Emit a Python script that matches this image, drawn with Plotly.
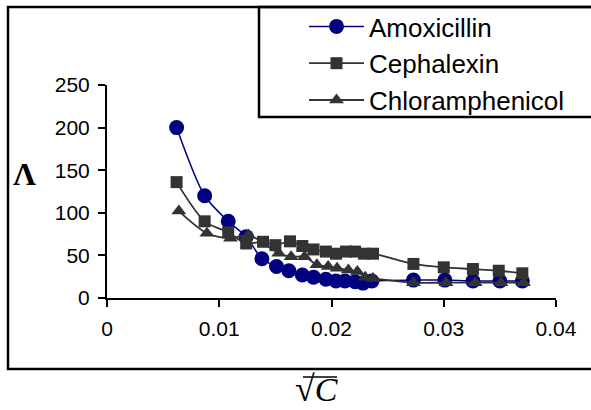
import plotly.graph_objects as go

# Molar conductivity (Λ) against square root of concentration
amox_x = [0.0062, 0.0087, 0.0108, 0.0124, 0.0138, 0.0151, 0.0162, 0.0174, 0.0184, 0.0195,
          0.0204, 0.0212, 0.0221, 0.0228, 0.0236, 0.0273, 0.0301, 0.0326, 0.0350, 0.0370]
amox_y = [200, 120, 90, 72, 46, 37, 32, 27, 24.5, 22,
          20, 20, 19, 17.5, 20, 21, 21, 20, 20, 20]

ceph_x = [0.0062, 0.0087, 0.0108, 0.0124, 0.0139, 0.0150, 0.0163, 0.0174, 0.0184, 0.0195,
          0.0204, 0.0213, 0.0221, 0.0229, 0.0237, 0.0273, 0.0300, 0.0326, 0.0349, 0.0370]
ceph_y = [136, 90, 77, 64, 66, 62, 66.5, 61, 57, 54.5,
          52, 54.5, 54.5, 52, 52, 40, 36, 34, 32, 29]

chlor_x = [0.0064, 0.0089, 0.0110, 0.0126, 0.0153, 0.0164, 0.0176, 0.0187, 0.0197,
           0.0205, 0.0215, 0.0223, 0.0230, 0.0237, 0.0273, 0.0302, 0.0328, 0.0351, 0.0371]
chlor_y = [102, 76, 70, 74, 52.5, 48.5, 48.5, 39, 37,
           35, 33, 31, 24.5, 23, 18, 18, 18, 18, 18]

x_ticks = [0, 0.01, 0.02, 0.03, 0.04]
x_tick_text = ["0", "0.01", "0.02", "0.03", "0.04"]
y_ticks = [0, 50, 100, 150, 200, 250]

NAVY = "#000080"
GREY = "#333333"
SANS = "Liberation Sans, Arial, sans-serif"
SERIF = "Liberation Serif, Times New Roman, serif"

fig = go.Figure()
fig.add_trace(go.Scatter(
    x=amox_x, y=amox_y, name="Amoxicillin", mode="lines+markers",
    line=dict(color=NAVY, width=1.5, shape="spline", smoothing=0.8),
    marker=dict(symbol="circle", size=15, color=NAVY),
))
fig.add_trace(go.Scatter(
    x=ceph_x, y=ceph_y, name="Cephalexin", mode="lines+markers",
    line=dict(color=GREY, width=1.8, shape="spline", smoothing=0.8),
    marker=dict(symbol="square", size=12, color=GREY),
))
fig.add_trace(go.Scatter(
    x=chlor_x, y=chlor_y, name="Chloramphenicol", mode="lines+markers",
    line=dict(color=GREY, width=1.8, shape="spline", smoothing=0.8),
    marker=dict(symbol="triangle-up", size=13, color=GREY),
))

W, H = 591, 410
x0, x1 = 107 / W, 556 / W
y0, y1 = 1 - 298 / H, 1 - 85 / H

axis_style = dict(
    showgrid=False, zeroline=False, automargin=False,
    showline=True, linecolor="black", linewidth=2,
    ticks="outside", ticklen=7, tickwidth=2, tickcolor="black",
    tickfont=dict(size=21),
)

fig.update_layout(
    width=W, height=H,
    margin=dict(l=0, r=0, t=0, b=0, autoexpand=False),
    paper_bgcolor="white", plot_bgcolor="white",
    font=dict(family=SANS, size=21, color="black"),
    showlegend=True,
    legend=dict(
        x=304 / W, y=1 - 3 / H, xanchor="left", yanchor="top",
        bgcolor="rgba(0,0,0,0)", borderwidth=0,
        font=dict(size=26, family=SANS),
        tracegroupgap=0, itemwidth=55,
    ),
    xaxis=dict(domain=[x0, x1], range=[0, 0.04],
               tickvals=x_ticks, ticktext=x_tick_text,
               ticklabelstandoff=4, **axis_style),
    yaxis=dict(domain=[y0, y1], range=[0, 250],
               tickvals=y_ticks, ticklabelstandoff=4, **axis_style),
)

# Outer frame of the chart and the legend frame
fig.add_shape(type="rect", xref="paper", yref="paper",
              x0=8 / W, x1=1.02, y0=1 - 369 / H, y1=1 - 7 / H,
              line=dict(color="black", width=2.5), layer="below")
fig.add_shape(type="rect", xref="paper", yref="paper",
              x0=259 / W, x1=1.02, y0=1 - 117 / H, y1=1 - 7 / H,
              line=dict(color="black", width=2.5), layer="below")

# Axis titles: Λ and √C
fig.add_annotation(text="<b>Λ</b>", xref="paper", yref="paper",
                   x=11 / W, y=1 - 174 / H, showarrow=False,
                   font=dict(family=SERIF, size=32))
fig.add_annotation(text="<span style='font-size:36px'>√</span><i>C</i>",
                   xref="paper", yref="paper", yanchor="bottom",
                   x=316 / W, y=0, showarrow=False, borderpad=0,
                   font=dict(family=SERIF, size=34))
# bar over the radicand
fig.add_shape(type="line", xref="paper", yref="paper",
              x0=303 / W, x1=337 / W, y0=1 - 377 / H, y1=1 - 377 / H,
              line=dict(color="black", width=1.5))

fig.write_html("out.html")
